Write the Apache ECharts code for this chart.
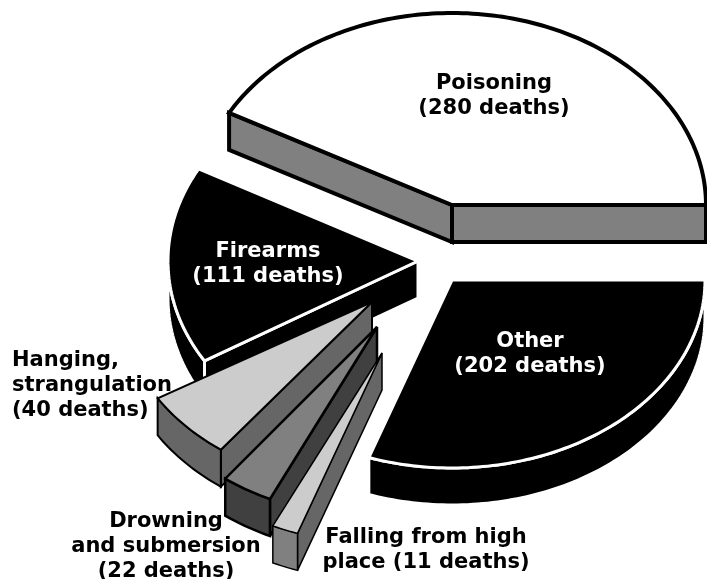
<!DOCTYPE html>
<html>
<head>
<meta charset="utf-8">
<style>html,body{margin:0;padding:0;background:#fff}#main{width:707px;height:579px}</style>
<script src="https://cdn.jsdelivr.net/npm/echarts@6/dist/echarts.min.js"></script>
</head>
<body>
<div id="main"></div>
<script>
var categories = ['Poisoning', 'Firearms', 'Hanging, strangulation', 'Drowning and submersion', 'Falling from high place', 'Other'];
var deaths = [280, 111, 40, 22, 11, 202];
var labelLines = [
    ['Poisoning', '(280 deaths)'],
    ['Firearms', '(111 deaths)'],
    ['Hanging,', 'strangulation', '(40 deaths)'],
    ['Drowning', 'and submersion', '(22 deaths)'],
    ['Falling from high', 'place (11 deaths)'],
    ['Other', '(202 deaths)']
];

// where each exploded slice sits, and how it looks
var layout = [
    { cx: 452, cy: 205, rx: 254, ry: 192, top: '#ffffff', edge: '#808080', rim: '#808080', line: '#000', lw: 4, tx: 494, ty: 84, align: 'center' },
    { cx: 418, cy: 261, rx: 250, ry: 192, top: '#000000', edge: '#000000', rim: '#000000', line: '#fff', lw: 3, tx: 268, ty: 252, align: 'center' },
    { cx: 372, cy: 302, rx: 251, ry: 185, top: '#cccccc', edge: '#666666', rim: '#666666', line: '#000', lw: 2, tx: 12, ty: 361, align: 'left' },
    { cx: 377, cy: 327, rx: 252, ry: 190, top: '#808080', edge: '#404040', rim: '#404040', line: '#000', lw: 2.5, tx: 166, ty: 522, align: 'center' },
    { cx: 382, cy: 353, rx: 257, ry: 191, top: '#cccccc', edge: '#666666', rim: '#808080', line: '#000', lw: 1.5, tx: 426, ty: 538, align: 'center' },
    { cx: 452, cy: 280, rx: 253, ry: 188, top: '#000000', edge: '#000000', rim: '#000000', line: '#fff', lw: 3, tx: 530, ty: 342, align: 'center' }
];
var depth = 37;
var lineGap = 25;
var labelFont = 'bold 21px "DejaVu Sans"';

var total = deaths.reduce(function (a, b) { return a + b; }, 0);
var starts = [];
deaths.reduce(function (sum, v, i) {
    starts[i] = sum / total * Math.PI * 2;
    return sum + v;
}, 0);

function rimPoint(s, ang, drop) {
    return [s.cx + s.rx * Math.cos(ang), s.cy - s.ry * Math.sin(ang) + (drop || 0)];
}

function arc(s, a, b, drop) {
    var pts = [];
    var n = Math.max(2, Math.ceil((b - a) / 0.02));
    for (var i = 0; i <= n; i++) {
        pts.push(rimPoint(s, a + (b - a) * i / n, drop));
    }
    return pts;
}

function poly(pts, fill, s) {
    return {
        type: 'polygon',
        shape: { points: pts },
        style: { fill: fill, stroke: s.line, lineWidth: s.lw, lineJoin: 'miter', miterLimit: 3 }
    };
}

function edgeFace(s, ang) {
    var p = rimPoint(s, ang);
    return poly([[s.cx, s.cy], p, [p[0], p[1] + depth], [s.cx, s.cy + depth]], s.edge, s);
}

function renderSlice(params, api) {
    var i = params.dataIndex;
    var s = layout[i];
    var a = starts[i];
    var b = a + api.value(0) / total * Math.PI * 2;
    var kids = [];

    // side faces of the cut only show when they look towards the viewer
    if (Math.cos(a) > 0) kids.push(edgeFace(s, a));
    if (Math.cos(b) < 0) kids.push(edgeFace(s, b));

    // outer wall, the part of the rim in the front half
    var wa = Math.max(a, Math.PI);
    var wb = Math.min(b, Math.PI * 2);
    if (wb > wa) {
        kids.push(poly(arc(s, wa, wb).concat(arc(s, wa, wb, depth).reverse()), s.rim, s));
    }

    kids.push(poly([[s.cx, s.cy]].concat(arc(s, a, b)), s.top, s));

    labelLines[i].forEach(function (t, k) {
        kids.push({
            type: 'text',
            z2: 10,
            style: {
                x: s.tx,
                y: s.ty + k * lineGap,
                text: t,
                font: labelFont,
                fill: s.top === '#000000' ? '#fff' : '#000',
                align: s.align,
                verticalAlign: 'middle'
            }
        });
    });
    return { type: 'group', children: kids };
}

var myChart = echarts.init(document.getElementById('main'));

var option = {
    backgroundColor: '#fff',
    animation: false,
    series: [{
        type: 'custom',
        coordinateSystem: 'none',
        name: 'Deaths',
        data: categories.map(function (c, i) { return { name: c, value: [deaths[i]] }; }),
        renderItem: renderSlice,
        clip: false
    }]
};

myChart.setOption(option);
</script>
</body>
</html>
